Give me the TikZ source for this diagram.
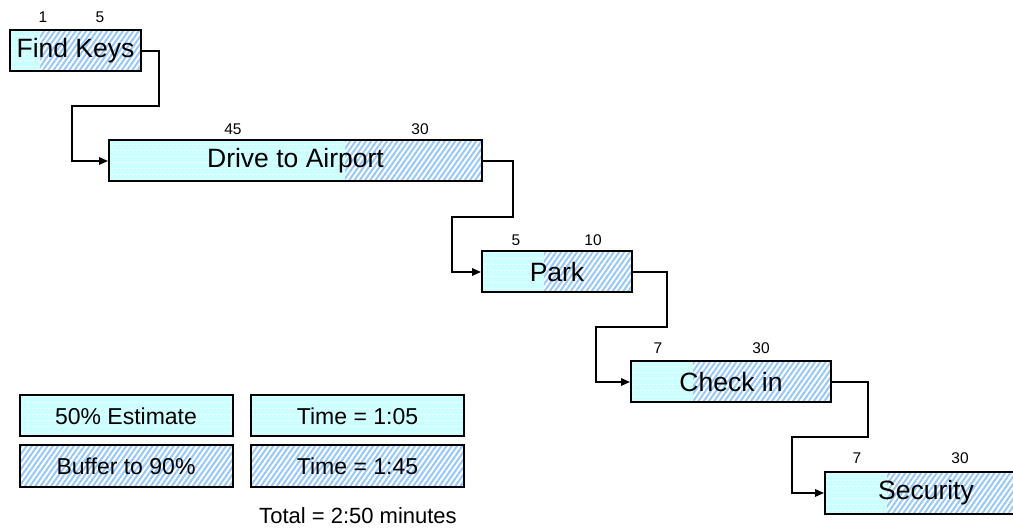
\documentclass[tikz,border=0pt]{standalone}
\usepackage{fontspec}
\setmainfont{Liberation Sans}
\usetikzlibrary{patterns,patterns.meta,arrows.meta}

% faint dashed rows laid over the estimate fill
\pgfdeclarepattern{
  name=estrows, type=uncolored,
  bottom left={\pgfpoint{0pt}{0pt}}, top right={\pgfpoint{4pt}{6pt}},
  tile size={\pgfpoint{4pt}{6pt}},
  code={\pgfpathrectangle{\pgfpoint{0pt}{0pt}}{\pgfpoint{3pt}{0.7pt}}\pgfusepath{fill}}
}

\definecolor{estcol}{RGB}{204,255,255}
\definecolor{bufcol}{RGB}{150,200,250}

\newcommand{\tasksize}{\fontsize{26.5}{31}\selectfont}
\newcommand{\legsize}{\fontsize{23}{27}\selectfont}
\newcommand{\totsize}{\fontsize{22}{26}\selectfont}
\newcommand{\numsize}{\fontsize{15.5}{18}\selectfont}

\tikzset{
  % hatched buffer area
  bufpaint/.style={pattern={Lines[angle=55,distance=4.3pt,line width=2pt]}, pattern color=bufcol},
  % estimate area
  estpaint/.style={fill=estcol},
  estrowpaint/.style={pattern=estrows, pattern color=white},
  % task bar: #1 is the width of its estimate part
  task/.style={draw, line width=2pt, minimum height=41pt, inner sep=0pt, font=\tasksize,
    path picture={
      \fill[white] (path picture bounding box.south west) rectangle (path picture bounding box.north east);
      \fill[bufpaint] (path picture bounding box.south west) rectangle (path picture bounding box.north east);
      \fill[estpaint] (path picture bounding box.south west) rectangle ([xshift=#1]path picture bounding box.north west);
      \fill[estrowpaint] (path picture bounding box.south west) rectangle ([xshift=#1]path picture bounding box.north west);
    }},
  legend/.style={draw, line width=2pt, minimum width=213pt, minimum height=41pt, inner sep=0pt, font=\legsize},
  legest/.style={legend, path picture={
      \fill[estpaint] (path picture bounding box.south west) rectangle (path picture bounding box.north east);
      \fill[estrowpaint] (path picture bounding box.south west) rectangle (path picture bounding box.north east);}},
  legbuf/.style={legend, path picture={
      \fill[white] (path picture bounding box.south west) rectangle (path picture bounding box.north east);
      \fill[bufpaint] (path picture bounding box.south west) rectangle (path picture bounding box.north east);}},
  dur/.style={font=\numsize, inner sep=0pt},
  conn/.style={line width=1.6pt, -{Triangle[length=9pt,width=7.5pt]}},
}

\begin{document}
\begin{tikzpicture}[x=1pt,y=-1pt]
\useasboundingbox (0,0) rectangle (1013,529);

% task bars
\node[task=30pt,  minimum width=131pt] (keys)  at (75.5,51)  {Find Keys};
\node[task=236pt, minimum width=373pt] (drive) at (295.5,161) {Drive to Airport};
\node[task=62pt,  minimum width=150pt] (park)  at (557,272)   {Park};
\node[task=62pt,  minimum width=200pt] (check) at (731,382)   {Check in};
\node[task=62pt,  minimum width=202pt] (sec)   at (926,493)   {Security};

% durations above each bar
\node[dur] (k1) at (43,17)   {1};
\node[dur] (k2) at (100,17)  {5};
\node[dur] (d1) at (233,129) {45};
\node[dur] (d2) at (420,129) {30};
\node[dur] (p1) at (516,240) {5};
\node[dur] (p2) at (593,240) {10};
\node[dur] (c1) at (658,348) {7};
\node[dur] (c2) at (761,348) {30};
\node[dur] (s1) at (857,458) {7};
\node[dur] (s2) at (960,458) {30};

% bends of the connectors
\coordinate (a1) at (159,106);  \coordinate (a2) at (72,106);
\coordinate (b1) at (513,217);  \coordinate (b2) at (452,217);
\coordinate (e1) at (667,327);  \coordinate (e2) at (596,327);
\coordinate (f1) at (868,437);  \coordinate (f2) at (792,437);

\draw[conn] (keys.east)  -| (a1) -- (a2) |- (drive.west);
\draw[conn] (drive.east) -| (b1) -- (b2) |- (park.west);
\draw[conn] (park.east)  -| (e1) -- (e2) |- (check.west);
\draw[conn] (check.east) -| (f1) -- (f2) |- (sec.west);

% legend
\node[legest] (lest)  at (126,416)   {50\% Estimate};
\node[legbuf] (lbuf)  at (126,466)   {Buffer to 90\%};
\node[legest] (test)  at (357.5,416) {Time = 1:05};
\node[legbuf] (tbuf)  at (357.5,466) {Time = 1:45};
\node[font=\totsize, inner sep=0pt] (total) at (358,516) {Total = 2:50 minutes};
\end{tikzpicture}
\end{document}
